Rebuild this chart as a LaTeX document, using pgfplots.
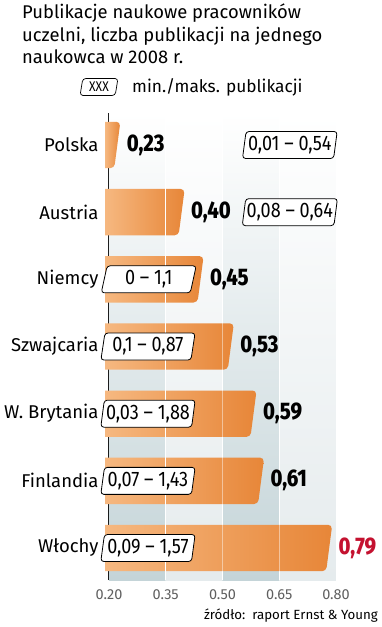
\documentclass[border=0pt]{standalone}
\usepackage{pgfplots}
\pgfplotsset{compat=1.18}
\usepackage{pgfplotstable}
\usetikzlibrary{shapes.geometric}
\usepackage{fontspec}
\setmainfont{Fira Sans}
\newfontfamily\valfont{Fira Sans}[FakeStretch=0.86]
\newfontfamily\heavyfont{Fira Sans ExtraBold}[FakeStretch=0.84]
\definecolor{barL}{RGB}{246,184,128}
\definecolor{barD}{RGB}{231,134,56}
\definecolor{bandD}{RGB}{196,212,216}
\definecolor{bandL}{RGB}{229,235,237}
\definecolor{redlab}{RGB}{196,18,48}
\definecolor{ticktxt}{RGB}{95,95,95}

\pgfplotstableread[col sep=semicolon,row sep=\\]{
idx;cat;val;lab;rng;bx\\
0;Polska;0.23;0,23;0,01 – 0,54;0.678\\
1;Austria;0.40;0,40;0,08 – 0,64;0.678\\
2;Niemcy;0.45;0,45;0 – 1,1;0.305\\
3;Szwajcaria;0.53;0,53;0,1 – 0,87;0.303\\
4;W. Brytania;0.59;0,59;0,03 – 1,88;0.303\\
5;Finlandia;0.61;0,61;0,07 – 1,43;0.303\\
6;Włochy;0.79;0,79;0,09 – 1,57;0.303\\
}\data

\tikzset{rangebox/.style={trapezium, trapezium left angle=80, trapezium right angle=100,
  trapezium stretches=true, draw=black, line width=0.8pt, fill=white, rounded corners=3pt}}

\begin{document}
\begin{tikzpicture}
\useasboundingbox (0,0) rectangle (381pt,627pt);
\begin{axis}[
  at={(109pt,47pt)}, anchor=south west,
  scale only axis, width=227pt, height=467pt,
  xmin=0.2, xmax=0.8, ymin=-0.476, ymax=6.476,
  y dir=reverse, clip=false,
  separate axis lines,
  axis x line*=bottom, axis y line*=left,
  x axis line style={draw=none},
  y axis line style={black, line width=1.3pt, -},
  xtick={0.2,0.35,0.5,0.65,0.8},
  ytick={0,...,6},
  yticklabels from table={\data}{cat},
  major tick length=0pt,
  /pgf/number format/assume math mode=true,
  xticklabel style={/pgf/number format/.cd, fixed, fixed zerofill, precision=2, /tikz/.cd,
     font=\fontsize{14.5}{14.5}\selectfont, text=ticktxt, yshift=-6pt},
  yticklabel style={font=\fontsize{18.5}{19}\selectfont, xshift=-7pt},
]
% background bands
\addplot[draw=none, top color=white, middle color=bandD!55!white, bottom color=bandD] coordinates {(0.2,-0.476)(0.35,-0.476)(0.35,6.476)(0.2,6.476)};
\addplot[draw=none, top color=white, middle color=bandL!55!white, bottom color=bandL] coordinates {(0.35,-0.476)(0.5,-0.476)(0.5,6.476)(0.35,6.476)};
\addplot[draw=none, top color=white, middle color=bandD!55!white, bottom color=bandD] coordinates {(0.5,-0.476)(0.65,-0.476)(0.65,6.476)(0.5,6.476)};
\addplot[draw=none, top color=white, middle color=bandL!55!white, bottom color=bandL] coordinates {(0.65,-0.476)(0.8,-0.476)(0.8,6.476)(0.65,6.476)};
\addplot[white, line width=1.2pt] coordinates {(0.5,-0.476)(0.5,6.476)};
\addplot[white, line width=1.2pt] coordinates {(0.65,-0.476)(0.65,6.476)};
% bars
\pgfplotsinvokeforeach{0,...,6}{
  \pgfplotstablegetelem{#1}{val}\of\data
  \pgfmathsetmacro\vt{\pgfplotsretval}
  \pgfmathsetmacro\vb{\pgfplotsretval-0.016}
  \pgfmathsetmacro\yt{#1-0.345}
  \pgfmathsetmacro\yb{#1+0.345}
  \edef\temp{\noexpand\addplot[draw=none, left color=barL, right color=barD, rounded corners=4pt]
     coordinates {(0.19,\yt) (\vt,\yt) (\vb,\yb) (0.19,\yb)};}
  \temp
}
\addplot[white, line width=1.2pt] coordinates {(0.35,-0.476)(0.35,6.476)};
\addplot[white, opacity=0.45, line width=1pt] coordinates {(0.5,-0.476)(0.5,6.476)};
\addplot[white, opacity=0.45, line width=1pt] coordinates {(0.65,-0.476)(0.65,6.476)};
% value labels
\addplot[draw=none, nodes near coords, point meta=explicit symbolic,
  every node near coord/.append style={anchor=west, xshift=3pt, text=black,
     font=\heavyfont\fontsize{24}{24}\selectfont},
  skip coords between index={6}{7}] table[x=val, y=idx, meta=lab] {\data};
\addplot[draw=none, nodes near coords, point meta=explicit symbolic,
  every node near coord/.append style={anchor=west, xshift=3pt, text=redlab,
     font=\heavyfont\fontsize{24}{24}\selectfont},
  skip coords between index={0}{6}] table[x=val, y=idx, meta=lab] {\data};
% min/max boxes
\addplot[draw=none, nodes near coords, point meta=explicit symbolic,
  every node near coord/.append style={anchor=center, rangebox,
     minimum width=95pt, minimum height=27pt, inner sep=1pt, text=black,
     font=\valfont\fontsize{21}{21}\selectfont}] table[x=bx, y=idx, meta=rng] {\data};
\end{axis}
% title and legend
\node[anchor=base west, inner sep=0, font=\fontsize{18.4}{18}\selectfont] at (22pt,608pt) {Publikacje naukowe pracowników};
\node[anchor=base west, inner sep=0, font=\fontsize{18.4}{18}\selectfont] at (22pt,585.5pt) {uczelni, liczba publikacji na jednego};
\node[anchor=base west, inner sep=0, font=\fontsize{18.4}{18}\selectfont] at (22pt,563pt) {naukowca w 2008 r.};
\node[rangebox, line width=0.7pt, minimum width=38pt, minimum height=17pt, inner sep=0pt,
  font=\valfont\fontsize{14}{14}\selectfont] at (99pt,540pt) {XXX};
\node[anchor=west, inner sep=0, font=\fontsize{17.3}{17}\selectfont] at (132pt,540pt) {min./maks. publikacji};
\node[anchor=base east, inner sep=0, font=\fontsize{13.3}{14}\selectfont] at (378pt,7pt) {źródło:\ \ raport Ernst \& Young};
\end{tikzpicture}
\end{document}
